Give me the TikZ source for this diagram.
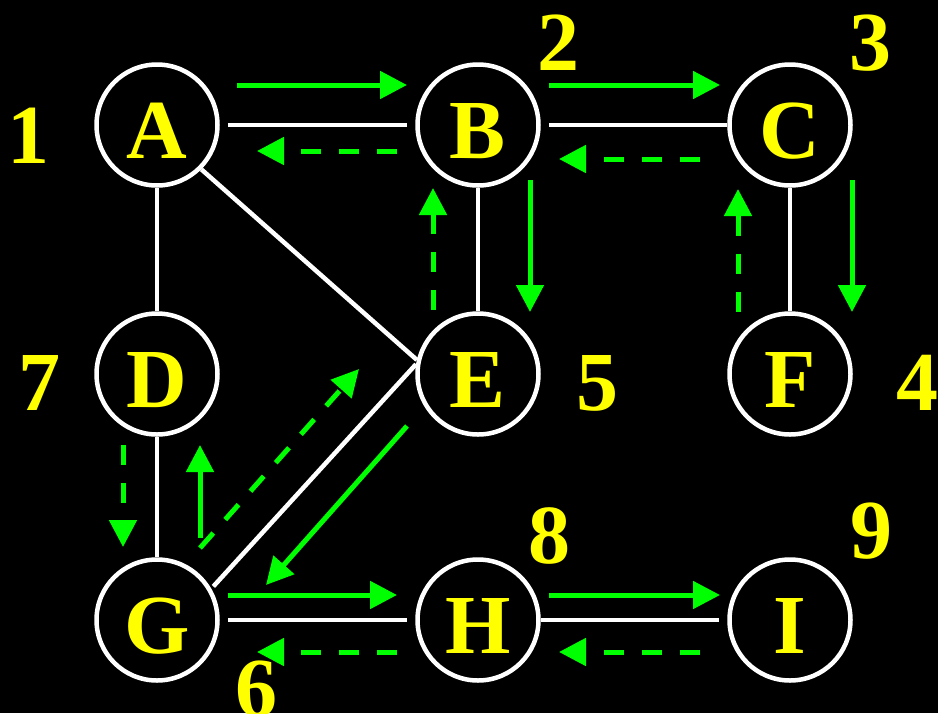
\documentclass[tikz,border=0pt]{standalone}
\usepackage{fontspec}
\setmainfont{Liberation Serif}
\usetikzlibrary{arrows.meta,calc}
\definecolor{lime}{RGB}{0,255,0}
\definecolor{yel}{RGB}{255,255,0}
\tikzset{
  vertex/.style={circle,draw=white,line width=4.5pt,minimum size=121pt,inner sep=0pt,
    text=yel,font=\bfseries\fontsize{84}{84}\selectfont,text height=66pt,text depth=0pt},
  edge/.style={draw=white,line width=4.5pt},
  gapstart/.style={shorten <=8pt},
  gapend/.style={shorten >=8pt},
  fwd/.style={draw=lime,line width=5pt,-{Triangle[length=27pt,width=27pt]}},
  back/.style={fwd,dash pattern=on 20pt off 18pt},
  num/.style={text=yel,font=\bfseries\fontsize{84}{84}\selectfont,anchor=base,inner sep=0pt}
}
\begin{document}
\begin{tikzpicture}[x=1pt,y=-1pt]
  \fill[black] (0,0) rectangle (938,713);
  \useasboundingbox (0,0) rectangle (938,713);

  % vertices
  \node[vertex] (A) at (157,125) {A};
  \node[vertex] (B) at (478,125) {B};
  \node[vertex] (C) at (790,125) {C};
  \node[vertex] (D) at (157,374) {D};
  \node[vertex] (E) at (478,374) {E};
  \node[vertex] (F) at (790,374) {F};
  \node[vertex] (G) at (157,620) {G};
  \node[vertex] (H) at (478,620) {H};
  \node[vertex] (I) at (790,620) {I};

  % graph edges
  \draw[edge,gapstart,gapend] (A) -- (B);
  \draw[edge,gapstart] (B) -- (C);
  \draw[edge,gapstart,gapend] (G) -- (H);
  \draw[edge,gapend] (H) -- (I);
  \draw[edge] (A) -- (D);
  \draw[edge] (D) -- (G);
  \draw[edge] (B) -- (E);
  \draw[edge] (C) -- (F);
  \draw[edge] (A.-45) -- (E.167);
  \draw[edge,shorten <=3pt] (G.30) -- (E.171);

  % traversal arrows: solid forward, dashed back
  \draw[fwd]  ($(A)+(80,-40)$) -- ($(B)+(-71,-40)$);
  \draw[back] ($(B)+(-81,26)$) -- ($(A)+(100,26)$);
  \draw[fwd]  ($(B)+(71,-40)$) -- ($(C)+(-70,-40)$);
  \draw[back] ($(C)+(-90,34)$) -- ($(B)+(81,34)$);
  \draw[fwd]  ($(B)+(52,55)$) -- ($(E)+(52,-62)$);
  \draw[back] ($(E)+(-45,-64)$) -- ($(B)+(-45,63)$);
  \draw[fwd]  ($(C)+(62,55)$) -- ($(F)+(62,-62)$);
  \draw[back] ($(F)+(-52,-62)$) -- ($(C)+(-52,64)$);
  \draw[back] ($(D)+(-34,71)$) -- ($(G)+(-34,-73)$);
  \draw[fwd]  ($(G)+(43,-82)$) -- ($(D)+(43,71)$);
  \draw[back] ($(G)+(43,-72)$) -- ($(E)+(-119,-5)$);
  \draw[fwd]  ($(E)+(-71,52)$) -- ($(G)+(109,-35)$);
  \draw[fwd]  ($(G)+(71,-25)$) -- ($(H)+(-81,-25)$);
  \draw[back] ($(H)+(-81,32)$) -- ($(G)+(100,32)$);
  \draw[fwd]  ($(H)+(71,-25)$) -- ($(I)+(-70,-25)$);
  \draw[back] ($(I)+(-90,32)$) -- ($(H)+(81,32)$);

  % visiting order
  \node[num] (n1) at (29,163) {1};
  \node[num] (n2) at (558,70) {2};
  \node[num] (n3) at (870,70) {3};
  \node[num] (n4) at (917,410) {4};
  \node[num] (n5) at (597,410) {5};
  \node[num] (n6) at (256,716) {6};
  \node[num] (n7) at (40,410) {7};
  \node[num] (n8) at (549,563) {8};
  \node[num] (n9) at (871,558) {9};
\end{tikzpicture}
\end{document}
